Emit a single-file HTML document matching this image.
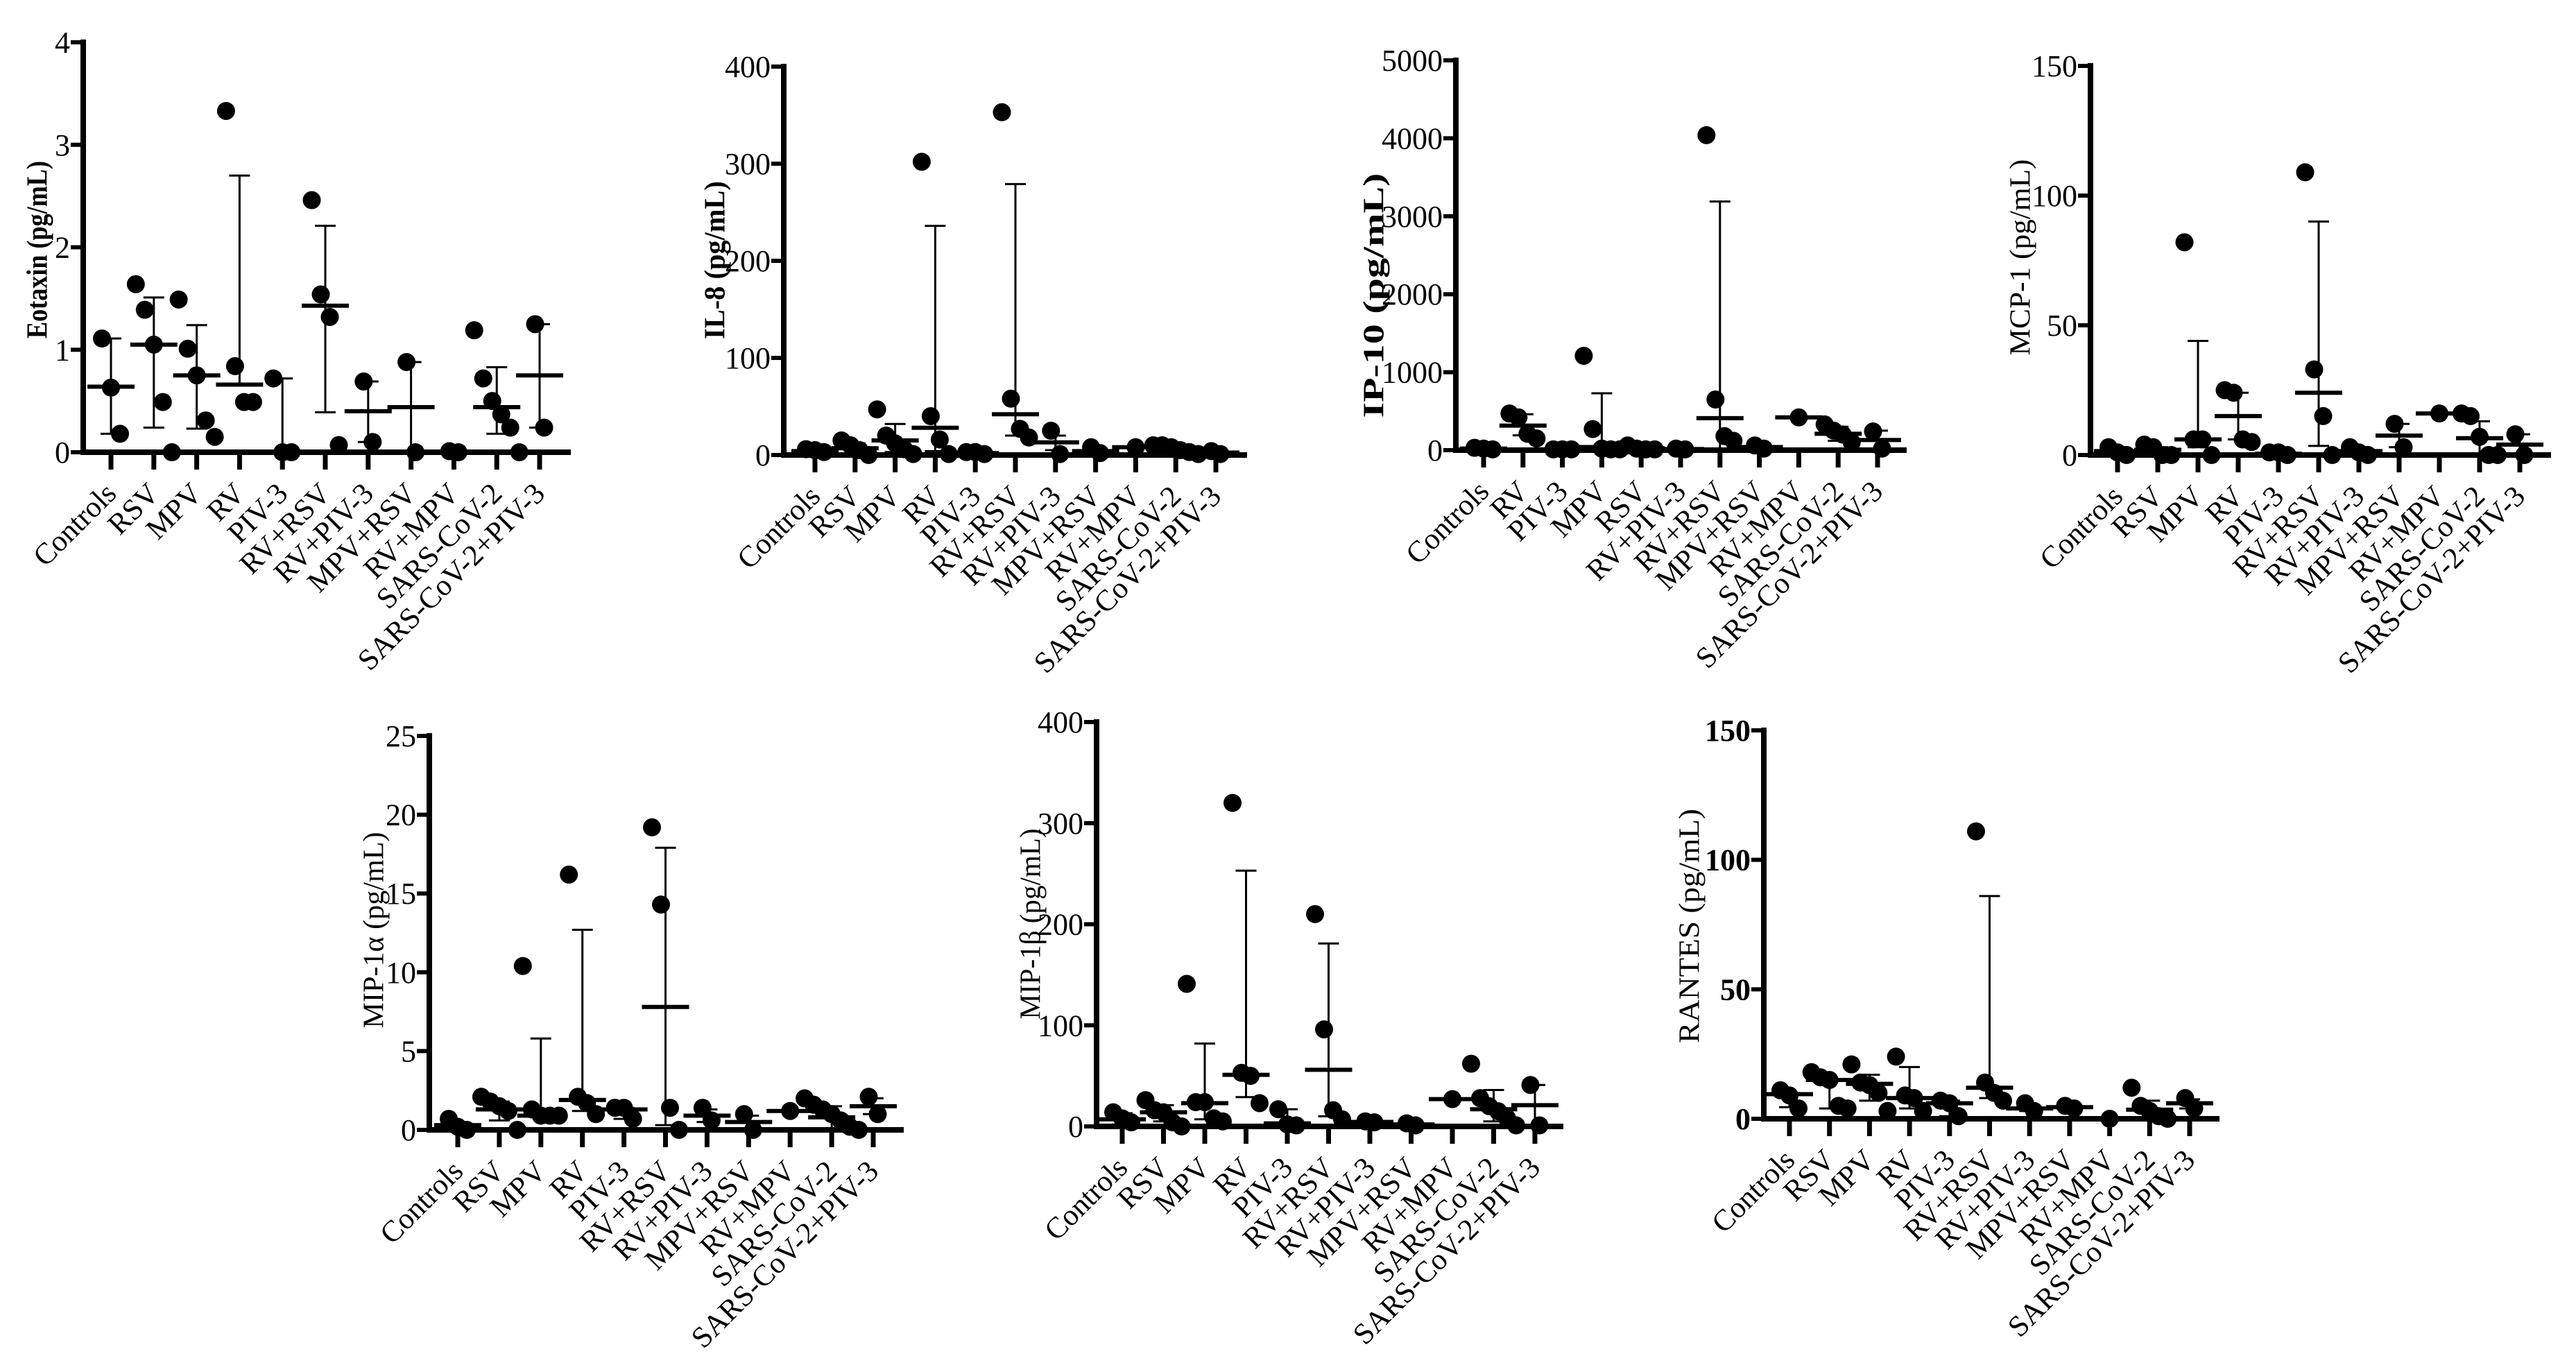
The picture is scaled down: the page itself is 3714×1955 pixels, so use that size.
<!DOCTYPE html>
<html><head><meta charset="utf-8">
<style>
html,body{margin:0;padding:0;background:#fff;}
svg{display:block;}
text{font-family:"Liberation Serif","DejaVu Serif",serif;fill:#000;}
</style></head>
<body>
<svg id="fig" xmlns="http://www.w3.org/2000/svg" width="3714" height="1955" viewBox="0 0 3714 1955"></svg>
<script>
// ---------- categories ----------
const catsStd = ["Controls","RSV","MPV","RV","PIV-3","RV+RSV","RV+PIV-3","MPV+RSV","RV+MPV","SARS-CoV-2","SARS-CoV-2+PIV-3"];
const catsIP10 = ["Controls","RV","PIV-3","MPV","RSV","RV+PIV-3","RV+RSV","MPV+RSV","RV+MPV","SARS-CoV-2","SARS-CoV-2+PIV-3"];

// ---------- Eotaxin ----------
const eotaxinTicks = [0,1,2,3,4];
const eotaxinPoints = [[1.11,0.63,0.18],[1.64,1.39,1.05,0.49,0],[1.49,1.01,0.75,0.31,0.15],[3.33,0.84,0.49,0.49],[0.72,0,0],[2.46,1.54,1.32,0.07],[0.69,0.10],[0.88,0],[0.01,0],[1.19,0.72,0.50,0.37,0.24,0],[1.25,0.24]];
const eotaxinMeans = [0.64,1.05,0.75,0.66,0,1.43,0.40,0.44,0,0.44,0.75];
const eotaxinHi = [1.11,1.51,1.24,2.70,0.72,2.21,0.69,0.88,0,0.83,1.25];
const eotaxinLo = [0.18,0.24,0.23,0.66,0,0.39,0.10,0,0,0.18,0.24];

// ---------- IL-8 ----------
const il8Ticks = [0,100,200,300,400];
const il8Points = [[6,5,3],[15,10,5,0],[47,20,12,6,1],[302,40,16,1],[3,3,1],[353,58,27,18],[25,1],[8,2],[8],[10,10,8,5,3,1],[4,1]];
const il8Means = [4,7,15,28,2,42,13,4,8,6,2.5];
const il8Hi = [6,12,32,236,3,279,20,6,8,9,4];
const il8Lo = [2,3,3,4,1,20,5,2,8,3,1];

// ---------- IP-10 ----------
const ip10Ticks = [0,1000,2000,3000,4000,5000];
const ip10Points = [[30,20,10],[470,420,210,150],[10,10,10],[1210,270,20,10,10],[60,20,10,10],[20,10],[4040,650,180,120],[60,20],[420],[330,250,200,100],[240,20]];
const ip10Means = [20,315,10,40,25,15,410,40,420,210,130];
const ip10Hi = [30,460,10,730,40,20,3190,50,420,300,250];
const ip10Lo = [10,190,10,0,10,10,0,30,420,120,20];

// ---------- MCP-1 ----------
const mcp1Ticks = [0,50,100,150];
const mcp1Points = [[3,1,0],[4,3,0,0],[82,6,6,0],[25,24,6,5],[1,1,0],[109,33,15,0],[3,1,0],[12,3],[16],[16,15,7,0,0],[8,0]];
const mcp1Means = [1.5,2,6,15,0.5,24,1.5,7.5,16,6.5,4];
const mcp1Hi = [3,3,44,24,1,90,3,12,16,13,8];
const mcp1Lo = [0,1,3,6,0,3.5,0,3,16,0,0];

// ---------- MIP-1a ----------
const mip1aTicks = [0,5,10,15,20,25];
const mip1aPoints = [[0.7,0.2,0],[2.1,1.8,1.5,1.2,0],[10.4,1.3,0.9,0.9,0.9],[16.2,2.1,1.7,1.0],[1.4,1.4,0.7],[19.2,14.3,1.4,0],[1.4,0.6],[1.0,0],[1.2],[2.0,1.6,1.3,1.0,0.6,0.2,0],[2.1,1.0]];
const mip1aMeans = [0.3,1.3,0.9,1.9,1.3,7.8,0.9,0.5,1.2,0.8,1.5];
const mip1aHi = [0.5,1.8,5.8,12.7,1.4,17.9,1.3,0.9,1.2,1.5,2.0];
const mip1aLo = [0,0.6,0.9,1.2,0.7,0.3,0.5,0,1.2,0,1.0];

// ---------- MIP-1b ----------
const mip1bTicks = [0,100,200,300,400];
const mip1bPoints = [[14,8,4],[26,16,14,4,0],[141,24,24,8,5],[320,53,50,23],[17,2,1],[210,96,16,7],[5,4],[3,1],[27],[62,28,20,15,8,1],[41,1]];
const mip1bMeans = [7,14,23,51,3,56,4.5,2,27,17,21];
const mip1bHi = [13,21,82,253,17,181,5,3,27,36,41];
const mip1bLo = [2,5,7,29,0,10,4,1,27,5,1];

// ---------- RANTES ----------
const rantesTicks = [0,50,100,150];
const rantesPoints = [[11,9,4],[18,16,15,5,4],[21,14,13,10,3],[24,9,8,3],[7,6,1],[111,14,10,7],[6,3],[5,4],[0],[12,5,3,1,0],[8,4]];
const rantesMeans = [9.5,15,13.5,8,6,12,4,4.5,0,3.5,6];
const rantesHi = [10,15,17,20,7,86,5,5,0,7,7.5];
const rantesLo = [4.5,4,7,4,1,8,3,4,0,0,4];

// ---------- layout (not data) ----------
const panels = [
 {key:"eotaxin",title:"Eotaxin (pg/mL)",bold:true,tLen:256,tx:53,ty:360,ax:120,xe:823,top:61,zero:652,c0:160,c1:778,ymax:4,cats:catsStd,ticks:eotaxinTicks,pts:eotaxinPoints,m:eotaxinMeans,hi:eotaxinHi,lo:eotaxinLo,tickBold:false},
 {key:"il8",title:"IL-8 (pg/mL)",bold:true,tLen:228,tx:1030,ty:375,ax:1130,xe:1798,top:96,zero:656,c0:1175,c1:1753,ymax:400,cats:catsStd,ticks:il8Ticks,pts:il8Points,m:il8Means,hi:il8Hi,lo:il8Lo,tickBold:false},
 {key:"ip10",title:"IP-10 (pg/mL)",bold:true,tLen:353,tx:1980,ty:426,ax:2099,xe:2749,top:87,zero:649,c0:2139,c1:2707,ymax:5000,cats:catsIP10,ticks:ip10Ticks,pts:ip10Points,m:ip10Means,hi:ip10Hi,lo:ip10Lo,tickBold:false},
 {key:"mcp1",title:"MCP-1 (pg/mL)",bold:false,tLen:283,tx:2912,ty:371,ax:3014,xe:3678,top:95,zero:656,c0:3053,c1:3633,ymax:150,cats:catsStd,ticks:mcp1Ticks,pts:mcp1Points,m:mcp1Means,hi:mcp1Hi,lo:mcp1Lo,tickBold:false},
 {key:"mip1a",title:"MIP-1\u03b1 (pg/mL)",bold:false,tLen:283,tx:538,ty:1341,ax:619,xe:1303,top:1061,zero:1629,c0:660,c1:1259,ymax:25,cats:catsStd,ticks:mip1aTicks,pts:mip1aPoints,m:mip1aMeans,hi:mip1aHi,lo:mip1aLo,tickBold:false},
 {key:"mip1b",title:"MIP-1\u03b2 (pg/mL)",bold:false,tLen:275,tx:1485,ty:1332,ax:1581,xe:2254,top:1041,zero:1624,c0:1618,c1:2213,ymax:400,cats:catsStd,ticks:mip1bTicks,pts:mip1bPoints,m:mip1bMeans,hi:mip1bHi,lo:mip1bLo,tickBold:false},
 {key:"rantes",title:"RANTES (pg/mL)",bold:false,tLen:338,tx:2435,ty:1335,ax:2543,xe:3200,top:1053,zero:1613,c0:2580,c1:3157,ymax:150,cats:catsStd,ticks:rantesTicks,pts:rantesPoints,m:rantesMeans,hi:rantesHi,lo:rantesLo,tickBold:true}
];

const NS = "http://www.w3.org/2000/svg";
const FONT = "Liberation Serif, DejaVu Serif, serif";
const svg = document.getElementById("fig");
function mk(tag, attrs, parent){
  const e = document.createElementNS(NS, tag);
  for (const k in attrs) e.setAttribute(k, attrs[k]);
  parent.appendChild(e);
  return e;
}
function slug(s){return s.toLowerCase().replace(/[^a-z0-9]+/g,'-').replace(/^-|-$/g,'');}

panels.forEach(p => {
  const g = mk("g", {}, svg);
  
  
  const y = v => p.zero - (v / p.ymax) * (p.zero - p.top);
  const n = p.cats.length;
  const x = i => p.c0 + i * (p.c1 - p.c0) / (n - 1);

  // y-axis
  const ya = mk("line", {x1:p.ax, y1:p.top-4, x2:p.ax, y2:p.zero+4, stroke:"#000","stroke-width":8}, g);
  
  
  p.ticks.forEach(t => {
    const ty = y(t);
    const tl = mk("line", {x1:p.ax-18, y1:ty, x2:p.ax, y2:ty, stroke:"#000","stroke-width":6}, g);
    
    
    const tt = mk("text", {x:p.ax-19, y:ty+15, "text-anchor":"end","font-size":44,"font-family":FONT,"font-weight":p.tickBold?"bold":"normal"}, g);
    tt.textContent = t;
    
    
  });
  // x-axis
  const xa = mk("line", {x1:p.ax-4, y1:p.zero, x2:p.xe, y2:p.zero, stroke:"#000","stroke-width":8}, g);
  
  

  // title
  const tt = mk("text", {x:p.tx, y:p.ty, "text-anchor":"middle","font-size":42,"font-family":FONT,"font-weight":p.bold?"bold":"normal",
     transform:`rotate(-90 ${p.tx} ${p.ty})`, dy:"0.35em", textLength:p.tLen, lengthAdjust:"spacingAndGlyphs"}, g);
  tt.textContent = p.title;
  
  

  p.cats.forEach((c, i) => {
    const cx = x(i);
    const tk = mk("line", {x1:cx, y1:p.zero, x2:cx, y2:p.zero+25, stroke:"#000","stroke-width":7}, g);
    
    
    const lx = cx + 10, ly = p.zero + 62;
    const lb = mk("text", {x:lx, y:ly, "text-anchor":"end","font-size":43,"font-family":FONT, transform:`rotate(-45 ${lx} ${ly})`}, g);
    lb.textContent = c;
    
    

    // error bar
    const hi = p.hi[i], lo = p.lo[i], mv = p.m[i];
    if (hi > lo) {
      const eb = mk("line", {x1:cx, y1:y(hi), x2:cx, y2:y(lo), stroke:"#000","stroke-width":3}, g);
      
      
      if (hi > mv) {
        const cap = mk("line", {x1:cx-15, y1:y(hi), x2:cx+15, y2:y(hi), stroke:"#000","stroke-width":3}, g);
        
        
      }
      if (lo < mv && lo > 0) {
        const cap2 = mk("line", {x1:cx-15, y1:y(lo), x2:cx+15, y2:y(lo), stroke:"#000","stroke-width":3}, g);
        
        
      }
    }
    // points
    const pts = p.pts[i];
    pts.forEach((v, j) => {
      const off = (j - (pts.length - 1) / 2) * 13;
      const dot = mk("circle", {cx:cx+off, cy:y(v), r:13, fill:"#000"}, g);
      
      
    });
    // mean line
    const ml = mk("line", {x1:cx-34, y1:y(mv), x2:cx+34, y2:y(mv), stroke:"#000","stroke-width":6}, g);
    
    
  });
});
</script>
</body></html>
